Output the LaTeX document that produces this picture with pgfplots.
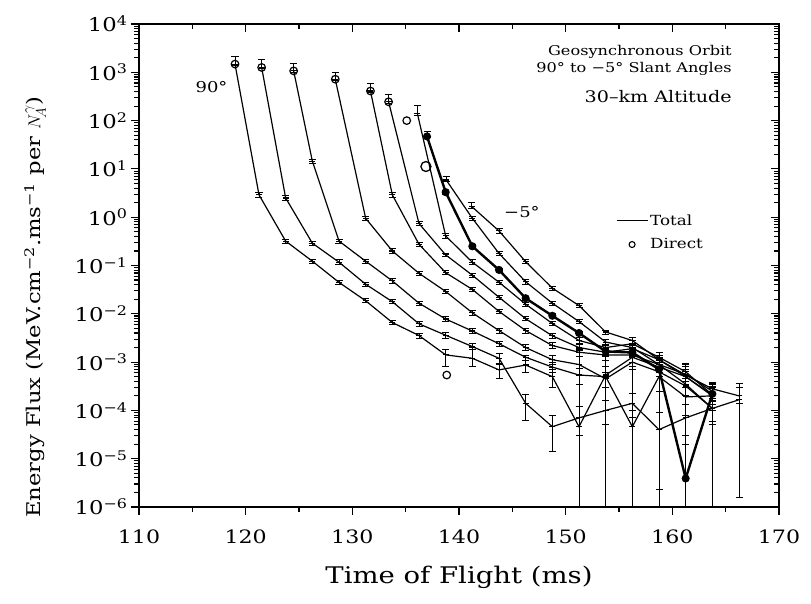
\documentclass[border=0pt]{standalone}
\usepackage{pgfplots}
\pgfplotsset{compat=1.18}
\usepackage{pgfplotstable}
\usepackage{fontspec}
\setmainfont{DejaVu Serif}[FakeStretch=1.2]

% columns: x, y, lower end of error bar, upper end of error bar
\pgfplotstableread{
x y lo hi
119.0 1480 1400 2090
121.25 2.9 2.6 3.2
123.75 0.32 0.29 0.35
126.25 0.123 0.112 0.135
128.75 0.0447 0.041 0.049
131.25 0.0186 0.017 0.0204
133.75 0.0066 0.006 0.0073
136.25 0.00355 0.0031 0.004
138.75 0.00141 0.0008 0.0018
141.25 0.0012 0.0008 0.0020
143.75 6.9e-4 4.5e-4 9.5e-4
146.25 8.7e-4 6e-4 1.1e-3
148.75 5.0e-4 3e-4 7e-4
151.25 4.6e-5 1e-7 1.2e-4
153.75 5.4e-4 3e-4 8e-4
156.25 1.26e-3 8e-4 1.7e-3
158.75 7.9e-4 5e-4 1.1e-3
161.25 5.0e-4 3e-4 7e-4
163.75 2.0e-4 1e-4 3e-4
}\tA
\pgfplotstableread{
x y lo hi
121.5 1260 1200 1800
123.75 2.5 2.25 2.75
126.25 0.29 0.26 0.32
128.75 0.117 0.105 0.13
131.25 0.041 0.037 0.045
133.75 0.0178 0.016 0.0196
136.25 0.0062 0.0055 0.0069
138.75 0.0036 0.0031 0.0041
141.25 0.0021 0.0018 0.0024
143.75 0.0012 0.0009 0.0015
146.25 1.4e-4 6.3e-5 2.1e-4
148.75 4.6e-5 1.4e-5 7.9e-5
151.25 7.0e-5 3e-5 1.2e-4
153.75 1.0e-4 5e-5 1.6e-4
156.25 1.4e-4 7e-5 2.2e-4
158.75 4.0e-5 1e-7 9e-5
161.25 7.0e-5 2e-5 1.3e-4
163.75 1.1e-4 5e-5 1.8e-4
166.25 1.66e-4 1.6e-6 3.6e-4
}\tB
\pgfplotstableread{
x y lo hi
124.5 1070 1000 1500
126.25 14.5 13 16
128.75 0.32 0.29 0.35
131.25 0.123 0.11 0.135
133.75 0.048 0.043 0.053
136.25 0.0166 0.015 0.0183
138.75 0.0078 0.007 0.0086
141.25 0.0044 0.0039 0.0049
143.75 0.0024 0.0021 0.0027
146.25 0.00126 0.0011 0.0014
148.75 7.9e-4 6e-4 1.0e-3
151.25 5.4e-4 3.5e-4 7.5e-4
153.75 5.0e-4 1e-7 2.2e-3
156.25 4.6e-5 1e-7 1.0e-4
158.75 5.0e-4 2.5e-4 8e-4
161.25 1.9e-4 8e-5 3e-4
163.75 2.0e-4 1e-7 3.6e-4
}\tC
\pgfplotstableread{
x y lo hi
128.4 720 680 1000
131.25 0.95 0.86 1.05
133.75 0.20 0.18 0.22
136.25 0.069 0.062 0.076
138.75 0.029 0.026 0.032
141.25 0.0105 0.0094 0.0116
143.75 0.0045 0.004 0.005
146.25 0.002 0.0017 0.0023
148.75 0.00112 0.0009 0.0014
151.25 8.9e-4 1e-7 1.8e-3
153.75 4.5e-4 3e-4 6e-4
156.25 1.0e-3 7e-4 1.3e-3
158.75 6.3e-4 2.3e-6 1.26e-3
161.25 3.2e-4 2e-4 4.5e-4
163.75 1.1e-4 6e-5 1.6e-4
}\tD
\pgfplotstableread{
x y lo hi
131.7 410 380 600
133.75 2.9 2.6 3.2
136.25 0.275 0.25 0.30
138.75 0.071 0.064 0.078
141.25 0.032 0.029 0.035
143.75 0.0112 0.01 0.0124
146.25 0.0045 0.004 0.005
148.75 0.0022 0.0019 0.0025
151.25 0.0016 0.0013 0.0019
153.75 0.0014 0.0011 0.0017
156.25 0.0014 1e-7 2.8e-3
158.75 8.9e-4 6e-4 1.2e-3
161.25 5.6e-4 3.5e-4 8e-4
163.75 2.5e-4 1.5e-4 3.5e-4
}\tE
\pgfplotstableread{
x y lo hi
133.4 245 230 350
136.25 0.74 0.67 0.81
138.75 0.166 0.15 0.18
141.25 0.063 0.057 0.069
143.75 0.022 0.02 0.024
146.25 0.0079 0.0071 0.0087
148.75 0.0035 0.0031 0.0039
151.25 0.002 0.0017 0.0023
153.75 0.0016 0.0013 0.0019
156.25 0.0019 0.0016 0.0022
158.75 0.00112 0.0009 0.0014
161.25 5.0e-4 3.5e-4 6.5e-4
163.75 2.1e-4 1e-7 3.6e-4
}\tF
\pgfplotstableread{
x y lo hi
136.1 140 130 205
138.75 0.41 0.37 0.45
141.25 0.117 0.105 0.13
143.75 0.045 0.04 0.05
146.25 0.0158 0.014 0.0175
148.75 0.0063 0.0056 0.007
151.25 0.0028 0.0024 0.0032
153.75 0.002 0.0017 0.0023
156.25 0.0024 0.002 0.0028
158.75 0.00126 0.001 0.0016
161.25 6.3e-4 4e-4 9e-4
163.75 2.1e-4 1.3e-4 3e-4
}\tG
\pgfplotstableread{
x y lo hi
137.0 47 44 60
138.75 3.3 3.0 3.6
141.25 0.25 0.23 0.27
143.75 0.081 0.074 0.088
146.25 0.021 0.019 0.023
148.75 0.0091 0.0082 0.01
151.25 0.004 0.0036 0.0044
153.75 0.00166 0.0014 0.0019
156.25 0.00158 0.0013 0.0019
158.75 7.1e-4 5e-4 1e-3
161.25 3.9e-6 1e-7 3e-5
163.75 2.2e-4 1e-4 3.2e-4
}\tH
\pgfplotstableread{
x y lo hi
138.8 5.9 5.5 7.0
141.25 0.95 0.86 1.05
143.75 0.178 0.16 0.196
146.25 0.046 0.041 0.051
148.75 0.0166 0.015 0.0183
151.25 0.0069 0.0062 0.0076
153.75 0.0026 0.0023 0.0029
156.25 0.002 0.0017 0.0023
158.75 8.9e-4 7e-4 1.1e-3
161.25 3.5e-4 1e-7 9.3e-4
163.75 1.1e-4 6e-5 1.8e-4
}\tI
\pgfplotstableread{
x y lo hi
141.2 1.66 1.55 2.0
143.75 0.52 0.47 0.57
146.25 0.12 0.108 0.132
148.75 0.034 0.031 0.037
151.25 0.0148 0.0133 0.0163
153.75 0.0042 0.0038 0.0046
156.25 0.0028 0.0024 0.0032
158.75 0.00112 0.0009 0.0014
161.25 5.4e-4 4e-4 7e-4
163.75 2.8e-4 1.8e-4 3.8e-4
166.25 2.0e-4 1.4e-4 3.0e-4
}\tJ
\pgfplotstableread{
x y
119.0 1480
121.5 1260
124.5 1070
128.4 720
131.7 410
133.4 245
135.1 100
138.85 5.4e-4
}\tDirect
\pgfplotstableread{
x y
136.9 11.2
}\tDirectBig

\pgfplotsset{
  curve/.style={black, line width=1.2pt, mark=-, mark size=3bp,
    mark options={solid, line width=1.1pt},
    error bars/.cd, y dir=both, y explicit, error mark=|,
    error bar style={line width=1pt, black},
    error mark options={line width=1pt, mark size=3.5bp, black}},
  boldcurve/.style={black, line width=2.4pt, mark=*, mark size=2.8bp,
    mark options={solid},
    error bars/.cd, y dir=both, y explicit, error mark=|,
    error bar style={line width=1pt, black},
    error mark options={line width=1pt, mark size=3.5bp, black}},
  table/errtab/.style={x=x, y=y,
    y error plus expr={\thisrow{hi}-\thisrow{y}},
    y error minus expr={\thisrow{y}-\thisrow{lo}}},
}

\begin{document}
\begin{tikzpicture}
\path[use as bounding box] (-139bp,-97bp) rectangle (672bp,507bp);
\begin{axis}[
  at={(0,0)}, anchor=south west,
  scale only axis, width=640bp, height=483bp,
  xmin=110, xmax=170, ymin=1e-6, ymax=1e4, ymode=log,
  xtick={110,120,...,170}, minor x tick num=1,
  ytickten={-6,-5,...,4},
  major tick length=8bp, minor tick length=5bp,
  every tick/.style={black, line width=1.1pt},
  axis line style={line width=2pt},
  tick align=outside, xtick pos=left, ytick pos=left,
  yticklabels={10\textsuperscript{−6},10\textsuperscript{−5},10\textsuperscript{−4},10\textsuperscript{−3},10\textsuperscript{−2},10\textsuperscript{−1},10\textsuperscript{0},10\textsuperscript{1},10\textsuperscript{2},10\textsuperscript{3},10\textsuperscript{4}},
  /pgf/number format/assume math mode=true,
  /pgf/number format/set thousands separator={},
  xticklabel style={font=\fontsize{18.5}{18.5}\selectfont, yshift=-11bp},
  yticklabel style={font=\fontsize{19}{19}\selectfont},
  xlabel={Time of Flight (ms)},
  ylabel={Energy Flux (MeV.cm\textsuperscript{−2}.ms\textsuperscript{−1} per $N_{\!A}^{\gamma}$)},
  xlabel style={font=\fontsize{23}{23}\selectfont, at={(axis description cs:0.5,-0.145)}, anchor=center},
  ylabel style={font=\fontsize{19}{19}\selectfont, at={(axis description cs:-0.1625,-0.03)}, anchor=west},
  legend style={draw=none, fill=none, inner sep=0pt, at={(axis description cs:0.745,0.61)}, anchor=north west,
    font=\fontsize{14}{15}\selectfont, row sep=8bp},
  legend cell align=left,
]
\addlegendimage{legend image code/.code={\draw[black, line width=1.2pt] (0bp,0bp) -- (31bp,0bp);}}
\addlegendentry{Total}
\addlegendimage{legend image code/.code={\path[draw=none] (0bp,0bp) -- (31bp,0bp); \draw[black, line width=1.1pt] plot[only marks, mark=o, mark size=3bp] coordinates {(15.5bp,0bp)};}}
\addlegendentry{Direct}

\addplot[curve] table[errtab] {\tA};
\addplot[curve] table[errtab] {\tB};
\addplot[curve] table[errtab] {\tC};
\addplot[curve] table[errtab] {\tD};
\addplot[curve] table[errtab] {\tE};
\addplot[curve] table[errtab] {\tF};
\addplot[curve] table[errtab] {\tG};
\addplot[boldcurve] table[errtab] {\tH};
\addplot[curve] table[errtab] {\tI};
\addplot[curve] table[errtab] {\tJ};
\addplot[only marks, mark=o, mark size=3.8bp, line width=1.2pt, mark options={fill=white}] table[x=x,y=y] {\tDirect};
\addplot[only marks, mark=o, mark size=5bp, line width=1.3pt, mark options={fill=white}] table[x=x,y=y] {\tDirectBig};

\node[font=\fontsize{15}{15}\selectfont] at (axis cs:116.8,490) {90°};
\node[font=\fontsize{15}{15}\selectfont] at (axis cs:145.9,1.3) {−5°};
\node[anchor=east, font=\fontsize{13.5}{14}\selectfont] at (axis cs:165.9,2630) {Geosynchronous Orbit};
\node[anchor=east, font=\fontsize{13.5}{14}\selectfont] at (axis cs:165.9,1175) {90° to −5° Slant Angles};
\node[anchor=east, font=\fontsize{16}{17}\selectfont] at (axis cs:165.9,309) {30–km Altitude};
\end{axis}
\begin{axis}[
  at={(0,0)}, anchor=south west,
  scale only axis, width=640bp, height=483bp,
  xmin=110, xmax=170, ymin=1e-6, ymax=1e4, ymode=log,
  xtick={110,120,...,170}, minor x tick num=1,
  ytickten={-6,-5,...,4},
  major tick length=8bp, minor tick length=5bp,
  every tick/.style={black, line width=1.1pt},
  axis line style={line width=2pt},
  tick align=inside, xtick pos=right, ytick pos=right,
  xticklabels={}, yticklabels={},
]
\addplot[draw=none, forget plot] coordinates {(120,1) (130,10)};
\end{axis}
\end{tikzpicture}
\end{document}
